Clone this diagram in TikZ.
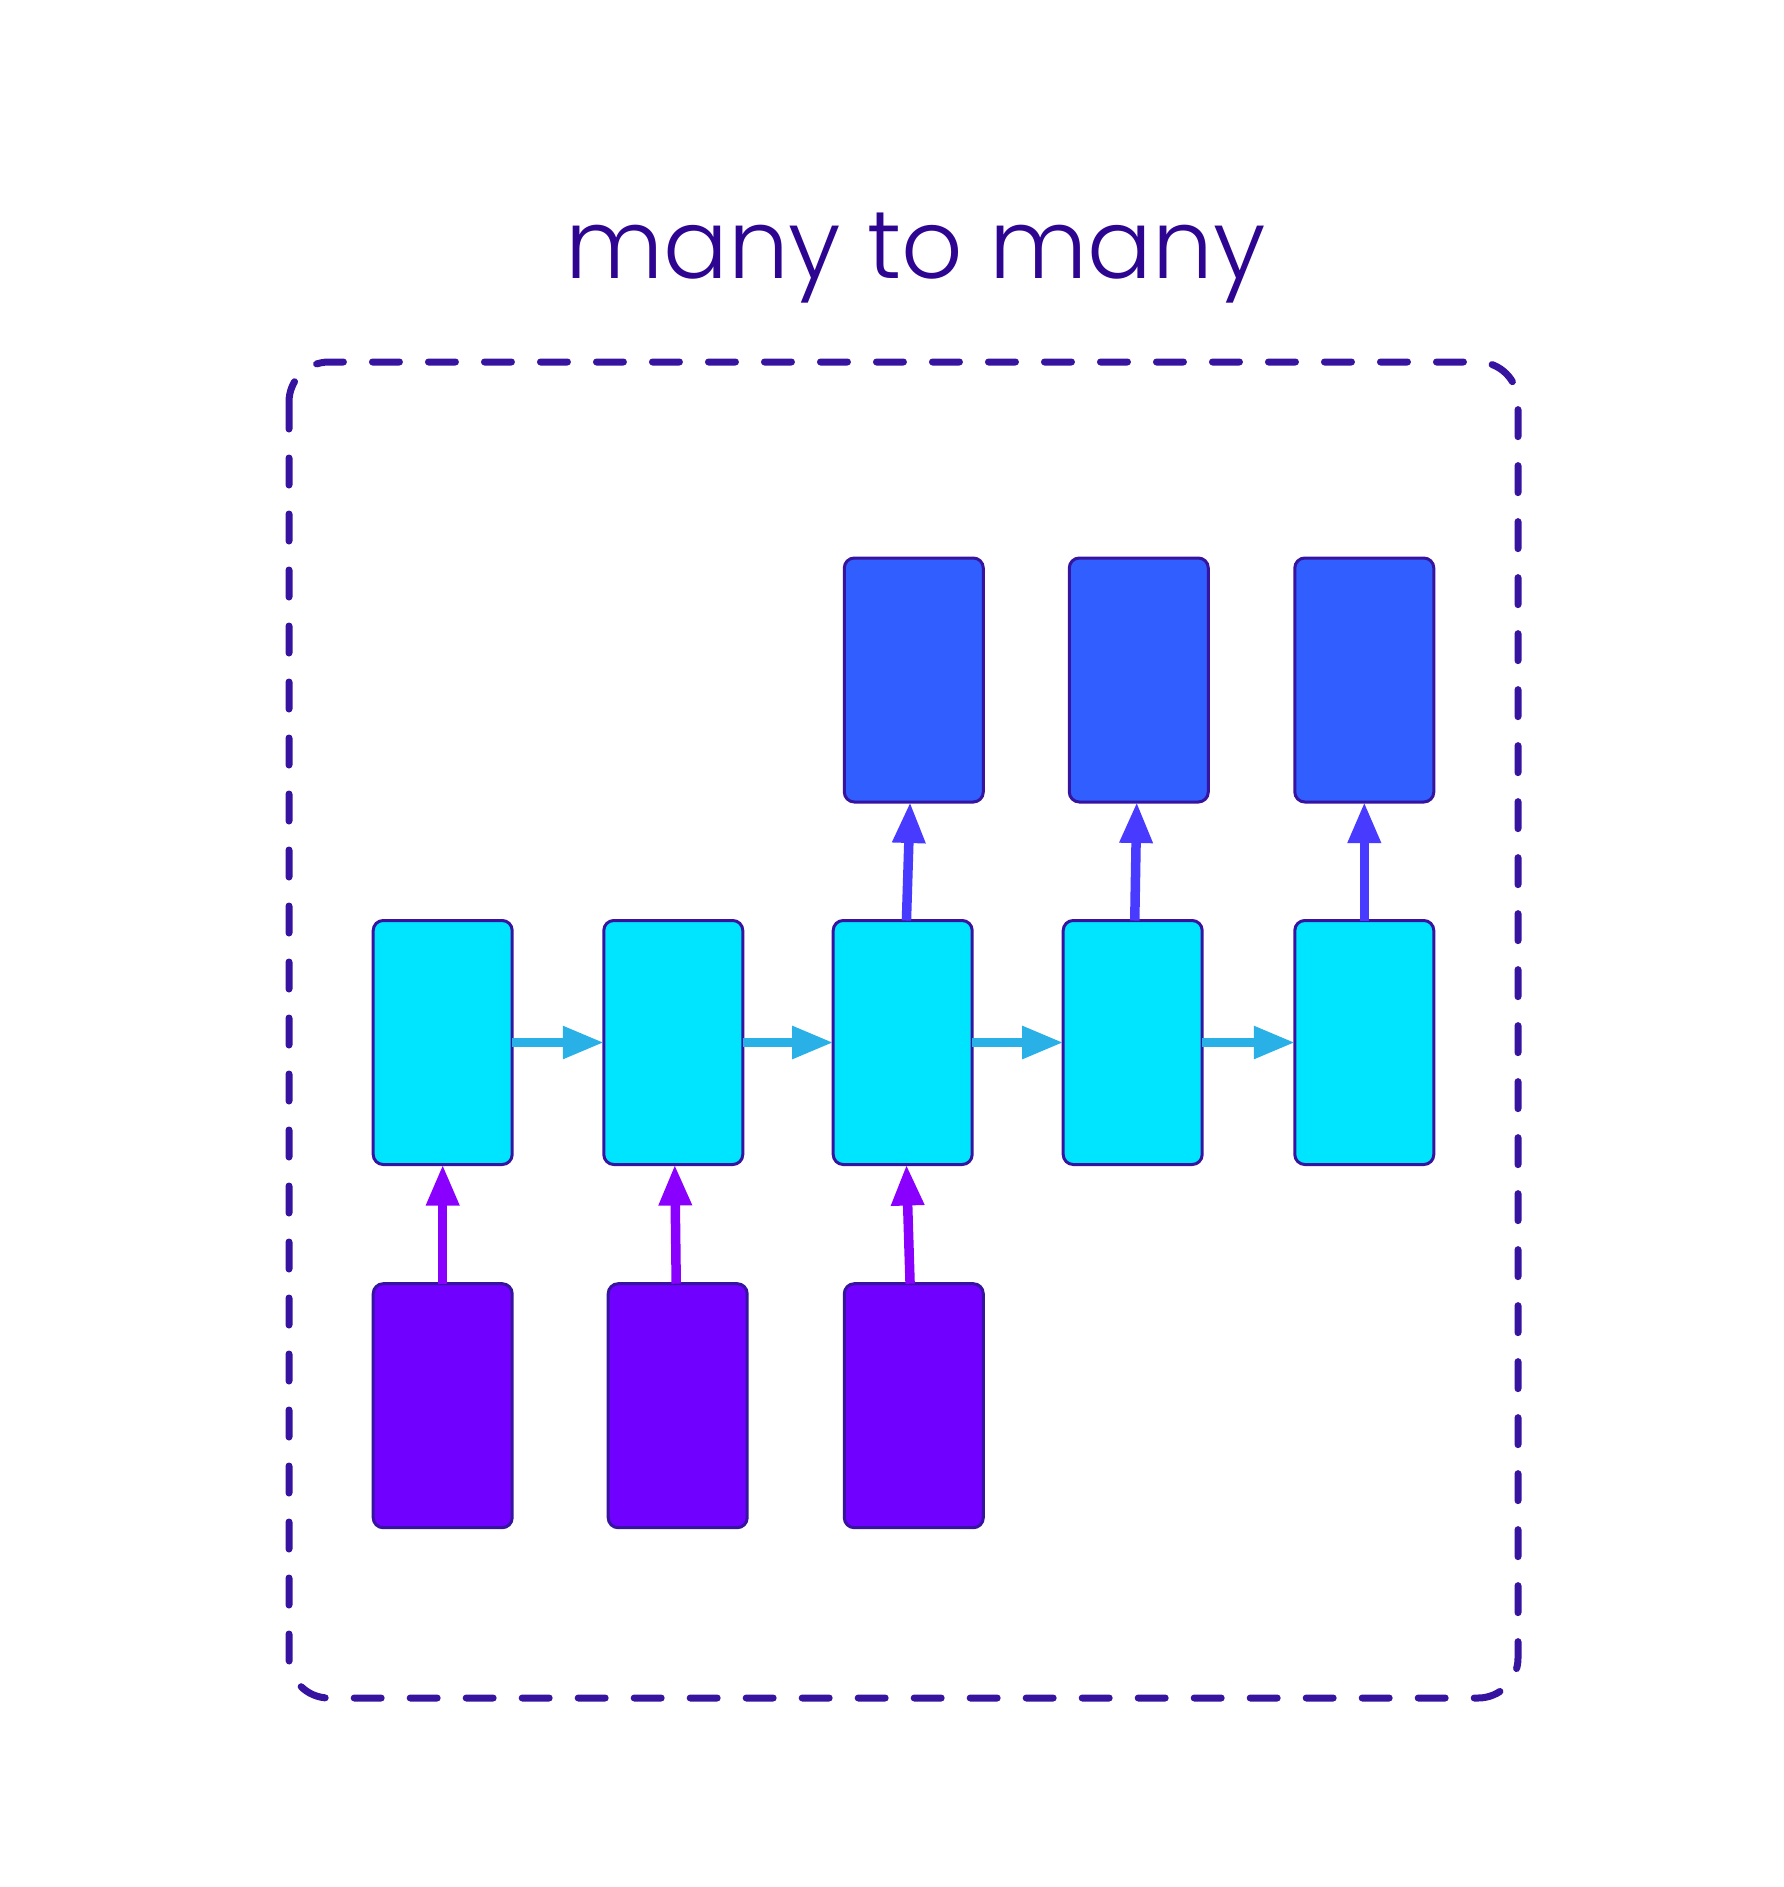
\documentclass[tikz,border=0pt]{standalone}
\usepackage{fontspec}
\IfFontExistsTF{Poppins Light}{\newfontfamily\titlefont{Poppins Light}}{\newfontfamily\titlefont{Poppins}}
\setmainfont{Poppins}
\usetikzlibrary{arrows.meta}
\definecolor{frame}{RGB}{55,20,160}
\definecolor{titlecol}{RGB}{45,5,145}
\definecolor{cellfill}{RGB}{0,229,255}
\definecolor{outfill}{RGB}{48,94,255}
\definecolor{infill}{RGB}{112,0,255}
\definecolor{harrow}{RGB}{41,176,230}
\definecolor{outarrow}{RGB}{72,58,255}
\definecolor{inarrow}{RGB}{138,0,255}
\tikzset{
  cellbox/.style={draw=frame, line width=3pt, rounded corners=10pt, minimum width=139pt, minimum height=244pt, inner sep=0pt, outer sep=0pt},
  hidden/.style={cellbox, fill=cellfill},
  outbox/.style={cellbox, fill=outfill},
  inbox/.style={cellbox, fill=infill},
  conn/.style={line width=9.5pt, -{Triangle[length=41pt 0 0, width=31pt 0 0]}},
  hconn/.style={conn, line width=8.5pt, draw=harrow},
  oconn/.style={conn, draw=outarrow},
  iconn/.style={conn, draw=inarrow},
  frameline/.style={draw=frame, line width=7pt, line cap=round, dash pattern=on 27pt off 29pt, rounded corners=40pt}
}
\begin{document}
\begin{tikzpicture}[x=1pt, y=-1pt]
\useasboundingbox (0,0) rectangle (1783,1887);
% title
\node[anchor=base, text=titlecol, inner sep=0pt, font=\titlefont\fontsize{96}{115}\selectfont] (title) at (915.5,278) {many to many};
% frame
\draw[frameline] (289,362) rectangle (1518,1698);
% hidden cells
\node[hidden] (c1) at (442.7,1042.5) {};
\node[hidden] (c2) at (673.3,1042.5) {};
\node[hidden] (c3) at (902.7,1042.5) {};
\node[hidden] (c4) at (1132.7,1042.5) {};
\node[hidden] (c5) at (1364.3,1042.5) {};
% outputs
\node[outbox] (o1) at (913.8,680) {};
\node[outbox] (o2) at (1138.8,680) {};
\node[outbox] (o3) at (1364.3,680) {};
% inputs
\node[inbox] (i1) at (442.7,1405.7) {};
\node[inbox] (i2) at (677.7,1405.7) {};
\node[inbox] (i3) at (913.8,1405.7) {};
% connectors
\draw[hconn] (c1) -- (c2);
\draw[hconn] (c2) -- (c3);
\draw[hconn] (c3) -- (c4);
\draw[hconn] (c4) -- (c5);
\draw[iconn] (i1) -- (c1);
\draw[iconn] (i2) -- (c2);
\draw[iconn] (i3) -- (c3);
\draw[oconn] (c3) -- (o1);
\draw[oconn] (c4) -- (o2);
\draw[oconn] (c5) -- (o3);
\end{tikzpicture}
\end{document}
